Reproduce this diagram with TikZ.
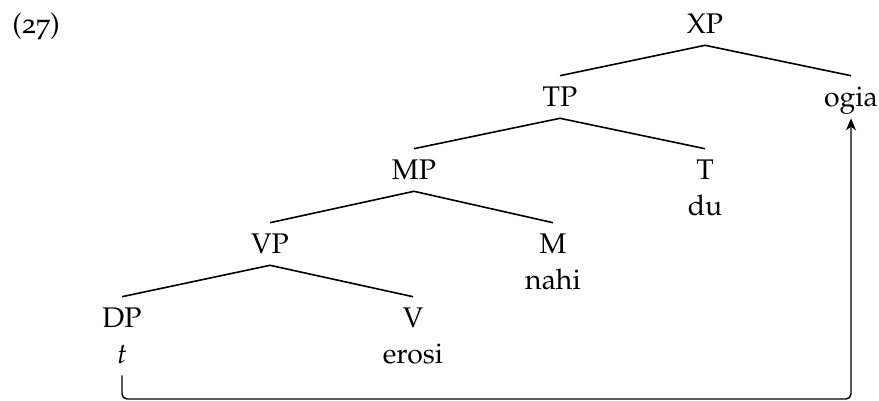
\documentclass[tikz,border=0pt]{standalone}
\usepackage[T1]{fontenc}
\usepackage[osf]{mathpazo}
\usetikzlibrary{arrows.meta}

\begin{document}
\begin{tikzpicture}[x=0.5pt, y=-0.5pt,
    cat/.style={inner xsep=1pt, inner ysep=5.6pt, text height=9.7pt, text depth=0pt,
                font=\fontsize{14.2}{18}\selectfont},
    branch/.style={line width=0.8pt},
    movement/.style={line width=0.7pt, rounded corners=2.5pt,
                     -{Stealth[length=6pt, width=5pt, inset=1.8pt]}}]
  \useasboundingbox (0,0) rectangle (879,401);

  % example number
  \node[cat, anchor=west, inner xsep=0pt] (exnum) at (12,24) {(27)};

  % categories and words
  \node[cat] (XP)    at (705,24)  {XP};
  \node[cat] (TP)    at (560,97)  {TP};
  \node[cat] (ogia)  at (851,97)  {ogia};
  \node[cat] (MP)    at (414,170) {MP};
  \node[cat] (T)     at (705,170) {T};
  \node[cat] (du)    at (705,206) {du};
  \node[cat] (VP)    at (270,244) {VP};
  \node[cat] (M)     at (553,244) {M};
  \node[cat] (nahi)  at (553,280) {nahi};
  \node[cat] (DP)    at (122,318) {DP};
  \node[cat] (V)     at (413,318) {V};
  \node[cat] (trace) at (122,354) {\itshape t};
  \node[cat] (erosi) at (413,354) {erosi};

  % branches
  \draw[branch] (TP.north) -- (XP.south) -- (ogia.north);
  \draw[branch] (MP.north) -- (TP.south) -- (T.north);
  \draw[branch] (VP.north) -- (MP.south) -- (M.north);
  \draw[branch] (DP.north) -- (VP.south) -- (V.north);

  % movement arrow from the trace to ogia
  \coordinate (floor) at (0,399);
  \draw[movement] (trace.south) |- (ogia.south |- floor) -- (ogia.south);
\end{tikzpicture}
\end{document}
